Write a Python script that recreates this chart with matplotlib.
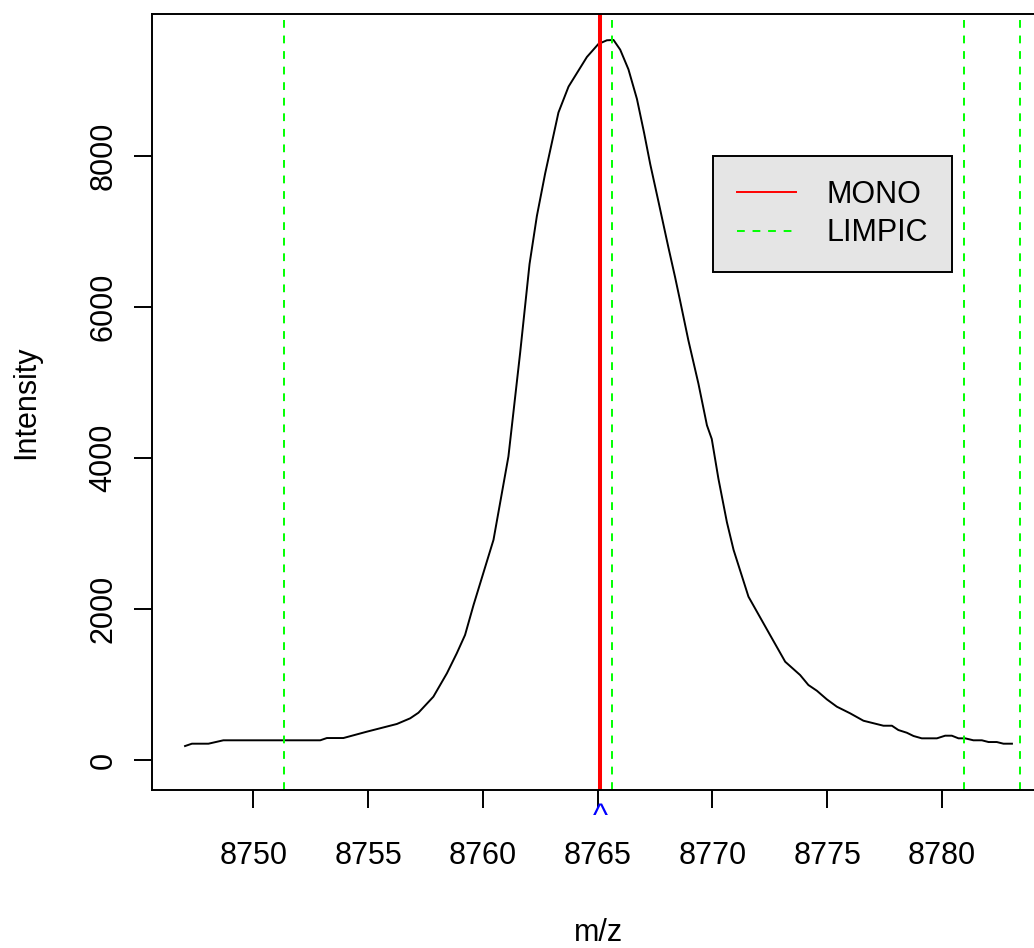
"""Profil d'un pic de spectre de masse avec les positions MONO et LIMPIC."""

import matplotlib
matplotlib.use("Agg")
import matplotlib.pyplot as plt
from matplotlib.lines import Line2D

plt.rcParams.update({
    "font.family": ["Liberation Sans", "DejaVu Sans"],
    "font.size": 22,
})

# spectre (m/z, intensite)
mz = [8747.02, 8747.32, 8748.04, 8748.69, 8752.91, 8753.20, 8753.92, 8754.94,
      8756.25, 8756.83, 8757.19, 8757.84, 8758.43, 8758.86, 8759.22, 8759.59,
      8760.46, 8761.11, 8761.62, 8762.03, 8762.35, 8762.71, 8763.29, 8763.73,
      8764.53, 8765.03, 8765.40, 8765.69, 8765.98, 8766.34, 8766.71, 8767.02,
      8767.29, 8767.65, 8768.08, 8768.37, 8768.59, 8768.95, 8769.39, 8769.76,
      8769.97, 8770.26, 8770.63, 8770.92, 8771.57, 8772.51, 8773.17, 8773.82,
      8774.18, 8774.55, 8774.98, 8775.42, 8776.00, 8776.58, 8777.45, 8777.82,
      8778.10, 8778.47, 8778.76, 8779.12, 8779.78, 8780.14, 8780.43, 8780.72,
      8781.01, 8781.37, 8781.74, 8782.03, 8782.39, 8782.68, 8783.05]
intensity = [185, 216, 216, 261, 261, 291, 291, 375,
             477, 552, 626, 838, 1148, 1413, 1655, 2052,
             2915, 4018, 5388, 6566, 7202, 7764, 8572, 8915,
             9307, 9479, 9528, 9532, 9404, 9143, 8751, 8305,
             7887, 7389, 6787, 6395, 6081, 5557, 4981, 4431,
             4250, 3724, 3148, 2782, 2162, 1655, 1301, 1125,
             993, 917, 804, 706, 618, 520, 454, 454,
             397, 361, 318, 287, 287, 322, 322, 287,
             287, 261, 261, 238, 238, 216, 216]

mono = 8765.11
limpic = [8751.32, 8765.62, 8780.97, 8783.41]

xticks = [8750, 8755, 8760, 8765, 8770, 8775, 8780]
yticks = [0, 2000, 4000, 6000, 8000]

W, H = 1034, 948
fig = plt.figure(figsize=(W / 100, H / 100), dpi=100)
ax = fig.add_axes([152 / W, 158 / H, 893 / W, 776 / H])

ax.plot(mz, intensity, color="black", lw=1.4)
ax.axvline(mono, color="red", lw=2.9)
for x in limpic:
    ax.axvline(x, color="#00ff00", lw=1.4, ls=(0, (4, 4)))

ax.set_xlim(8745.58, 8784.49)
ax.set_ylim(-397, 9876)
ax.set_xticks(xticks)
ax.set_yticks(yticks)
ax.tick_params(direction="out", length=13, width=1.4, color="black")
ax.tick_params(axis="x", pad=24)
ax.tick_params(axis="y", pad=11, labelrotation=90)
for lab in ax.get_yticklabels():
    lab.set_va("center")
for s in ax.spines.values():
    s.set_linewidth(1.4)

# repere bleu sous l'axe a la position MONO
ax.text(mono, -0.016, "^", color="blue", ha="center", va="top", fontsize=23,
        transform=ax.get_xaxis_transform(), clip_on=False)

ax.set_xlabel("m/z")
ax.set_ylabel("Intensity")
ax.xaxis.set_label_coords(0.5, -0.165)
ax.yaxis.set_label_coords(-0.124, 0.5)

handles = [Line2D([], [], color="red", lw=1.4),
           Line2D([], [], color="#00ff00", lw=1.4, ls=(0, (4, 4)))]
leg = ax.legend(handles, ["MONO", "LIMPIC"], loc="upper left",
                bbox_to_anchor=(713 / W, 1 - 156 / H), bbox_transform=fig.transFigure,
                fancybox=False, framealpha=1, facecolor="#e5e5e5", edgecolor="black",
                handlelength=1.95, handletextpad=1.0, borderpad=0.78, labelspacing=0.28,
                borderaxespad=0)
leg.get_frame().set_linewidth(1.4)

fig.savefig("out.png", dpi=100)
